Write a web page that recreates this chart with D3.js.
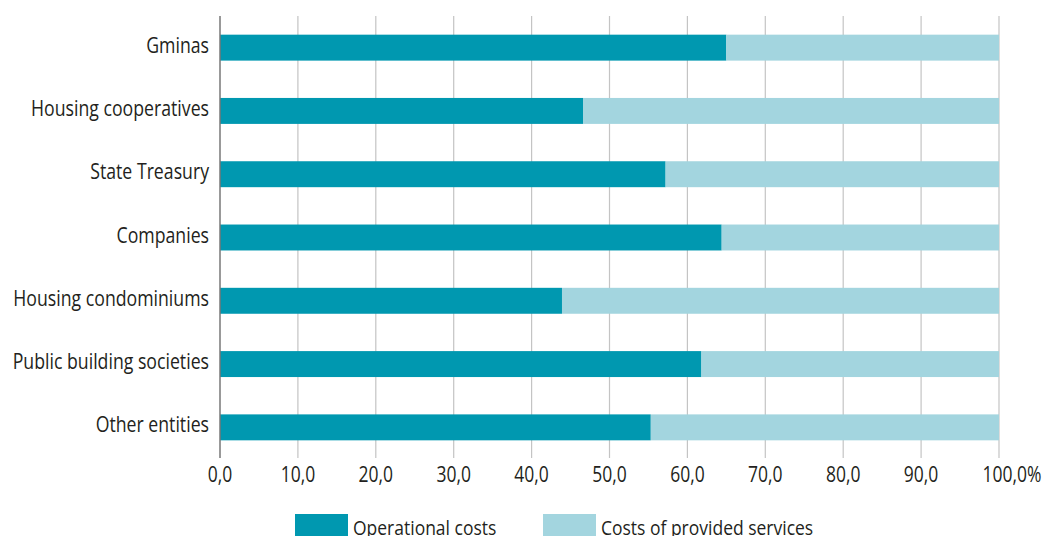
<!DOCTYPE html>
<html><head><meta charset="utf-8">
<script src="https://cdn.jsdelivr.net/npm/d3@7"></script>
<style>body{margin:0;background:#fff;} svg{display:block;} text{font-variant-ligatures:none;}</style>
</head><body>
<svg id="c" width="1046" height="536"></svg>
<script>
const categories = ["Gminas","Housing cooperatives","State Treasury","Companies","Housing condominiums","Public building societies","Other entities"];
const operational = [65.0, 46.6, 57.2, 64.4, 43.9, 61.8, 55.3];
const provided = operational.map(v => +(100 - v).toFixed(1));
const seriesNames = ["Operational costs","Costs of provided services"];
const tickValues = [0,10,20,30,40,50,60,70,80,90,100];
const colors = ["#0098b0","#a3d5df"];

const svg = d3.select("#c");
const font = "'Open Sans', 'Noto Sans', sans-serif";
const textColor = "#231f20";
const x = d3.scaleLinear().domain([0,100]).range([220,999]);
const y = d3.scaleBand().domain(categories).range([16,459]).paddingInner(0.59).paddingOuter(0.295);

// gridlines
svg.append("g").selectAll("line").data(tickValues.slice(1)).join("line")
  .attr("x1", d=>x(d)).attr("x2", d=>x(d)).attr("y1",16).attr("y2",458)
  .attr("stroke","#c4c4c4").attr("stroke-width",1.2);

const data = categories.map((c,i)=>({cat:c, op:operational[i], pr:provided[i]}));
const g = svg.append("g");
g.selectAll("rect.op").data(data).join("rect").attr("class","op")
  .attr("x", x(0)).attr("y", d=>y(d.cat)).attr("width", d=>x(d.op)-x(0)).attr("height", y.bandwidth())
  .attr("fill", colors[0]);
g.selectAll("rect.pr").data(data).join("rect").attr("class","pr")
  .attr("x", d=>x(d.op)).attr("y", d=>y(d.cat)).attr("width", d=>x(d.op+d.pr)-x(d.op)).attr("height", y.bandwidth())
  .attr("fill", colors[1]);

// axis line
svg.append("line").attr("x1",x(0)).attr("x2",x(0)).attr("y1",16).attr("y2",458)
  .attr("stroke","#777").attr("stroke-width",1.5);

// category labels
svg.append("g").selectAll("text").data(categories).join("text")
  .attr("transform", d=>`translate(209,${y(d)+y.bandwidth()/2+5})scale(1,1.18)`)
  .attr("text-anchor","end").attr("font-family",font).attr("font-size",17.7).attr("fill",textColor)
  .text(d=>d);

// tick labels
svg.append("g").selectAll("text").data(tickValues).join("text")
  .attr("transform", d=>`translate(${x(d) + (d===100?13:0)},482)scale(1,1.2)`)
  .attr("text-anchor","middle").attr("font-family",font).attr("font-size",17.5).attr("fill",textColor)
  .text(d=> d.toFixed(1).replace(".",",") + (d===100?"%":""));

// legend
const lx = [295, 543];
const leg = svg.append("g");
seriesNames.forEach((n,i)=>{
  leg.append("rect").attr("x",lx[i]).attr("y",514).attr("width",53).attr("height",30).attr("fill",colors[i]);
  leg.append("text").attr("transform",`translate(${lx[i]+58},535)scale(1,1.18)`)
    .attr("font-family",font).attr("font-size",17.5)
    .attr("fill",textColor).text(n);
});
</script>
</body></html>
